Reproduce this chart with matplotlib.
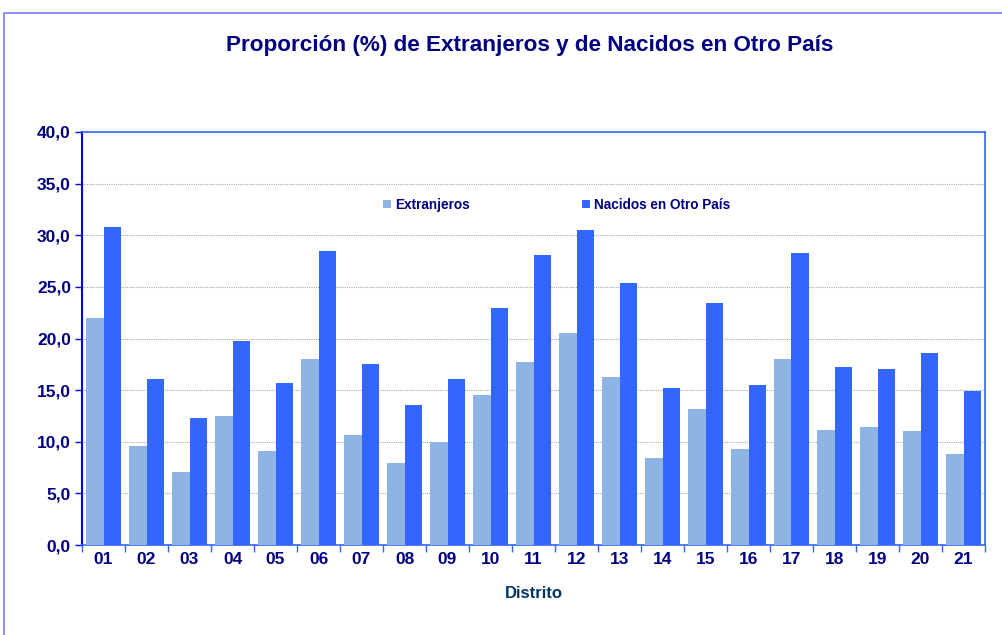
import numpy as np
import matplotlib
matplotlib.use('Agg')
import matplotlib.pyplot as plt
from matplotlib.patches import Rectangle
from matplotlib.ticker import FixedLocator, FuncFormatter

plt.rcParams['font.family'] = ['Liberation Sans', 'DejaVu Sans']

# Datos
distritos = ['01', '02', '03', '04', '05', '06', '07', '08', '09', '10', '11',
             '12', '13', '14', '15', '16', '17', '18', '19', '20', '21']
extranjeros = [22.0, 9.6, 7.1, 12.5, 9.1, 18.0, 10.7, 7.9, 10.0, 14.5, 17.7,
               20.5, 16.3, 8.4, 13.2, 9.3, 18.0, 11.1, 11.4, 11.0, 8.8]
nacidos_otro = [30.8, 16.1, 12.3, 19.8, 15.7, 28.5, 17.5, 13.6, 16.1, 23.0, 28.1,
                30.5, 25.4, 15.2, 23.4, 15.5, 28.3, 17.2, 17.0, 18.6, 14.9]

C_CLARO, C_OSCURO = '#8EB4E3', '#3366FF'
C_TXT = '#000080'

W, H = 1002, 635
fig = plt.figure(figsize=(W / 100, H / 100), dpi=100)
fig.patch.set_facecolor('white')

# Marco exterior
fig.patches.append(Rectangle((4 / W, -0.01), 1.05, 1 - 13 / H + 0.01, transform=fig.transFigure,
                             fill=False, edgecolor='#7B7BF7', linewidth=1.2))

ax = fig.add_axes([82 / W, 1 - 545 / H, (985 - 82) / W, (545 - 132) / H])
x = np.arange(len(distritos))
ancho = 0.41
ax.bar(x - ancho / 2, extranjeros, width=ancho, color=C_CLARO, label='Extranjeros', zorder=3)
ax.bar(x + ancho / 2, nacidos_otro, width=ancho, color=C_OSCURO, label='Nacidos en Otro País', zorder=3)

ax.set_xlim(-0.5, len(distritos) - 0.5)
ax.set_ylim(0, 40)
ax.yaxis.set_major_locator(FixedLocator(np.arange(0, 41, 5)))
ax.yaxis.set_major_formatter(FuncFormatter(lambda v, p: f'{v:.1f}'.replace('.', ',')))
ax.grid(axis='y', color='#AAAAAA', linestyle=(0, (1, 1)), linewidth=0.8, zorder=0)

ax.set_xticks(x)
ax.set_xticklabels(distritos)
ax.set_xticks(np.arange(-0.5, len(distritos)), minor=True)
ax.tick_params(axis='x', which='major', length=0, pad=5)
ax.tick_params(axis='x', which='minor', length=5, color=C_OSCURO, width=1)
ax.tick_params(axis='y', length=5, color='#0000FF', width=1, pad=3)
for lab in ax.get_xticklabels() + ax.get_yticklabels():
    lab.set_fontweight('bold')
    lab.set_fontsize(12.5)
    lab.set_color(C_TXT)

ax.spines['left'].set_color('#0000FF')
ax.spines['left'].set_linewidth(1.5)
for s in ['bottom', 'top', 'right']:
    ax.spines[s].set_color(C_OSCURO)
    ax.spines[s].set_linewidth(1.2)

ax.set_xlabel('Distrito', fontsize=12, fontweight='bold', color='#003366', labelpad=14)

fig.text(530 / W, 1 - 46 / H, 'Proporción (%) de Extranjeros y de Nacidos en Otro País',
         ha='center', va='center', fontsize=16.2, fontweight='bold', color=C_TXT)

leg = ax.legend(loc='upper left', bbox_to_anchor=(0.32, 0.87), ncol=2, frameon=False,
                handlelength=0.6, handleheight=0.6, handletextpad=0.3, columnspacing=8.2,
                prop={'weight': 'bold', 'size': 9.8})
for t in leg.get_texts():
    t.set_color(C_TXT)

fig.savefig('out.png', dpi=100)
